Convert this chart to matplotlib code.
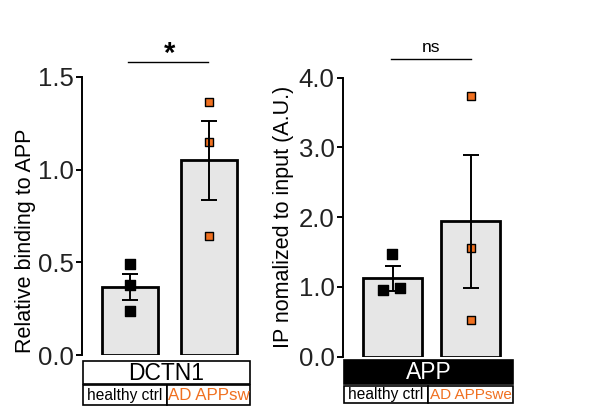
import matplotlib
matplotlib.use("Agg")
import matplotlib.pyplot as plt
from matplotlib.patches import Rectangle

plt.rcParams['font.family'] = ['Liberation Sans', 'DejaVu Sans']

# ---- data ----
groups = ["healthy ctrl", "AD APPswe"]
dctn1_means = [0.367, 1.050]
dctn1_sem = [0.070, 0.215]
dctn1_pts_ctrl = [0.49, 0.38, 0.24]
dctn1_pts_ad = [1.367, 1.148, 0.644]

app_means = [1.125, 1.940]
app_sem = [0.18, 0.95]
app_pts_ctrl = [1.47, 0.95, 0.985]
app_pts_ad = [3.74, 1.563, 0.526]
app_jitter_ctrl = [-0.01, -0.12, 0.10]
app_jitter_ad = [0.0, 0.0, 0.0]
dctn1_jitter = [0.0, 0.0, 0.0]

left_ticks = [0.0, 0.5, 1.0, 1.5]
left_ticklabels = ["0.0", "0.5", "1.0", "1.5"]
right_ticks = [0.0, 1.0, 2.0, 3.0, 4.0]
right_ticklabels = ["0.0", "1.0", "2.0", "3.0", "4.0"]

W, H = 604, 419
fig = plt.figure(figsize=(W / 100, H / 100), dpi=100)
fig.patch.set_facecolor("white")

def fax(l, t, r, b):
    return [l / W, 1 - b / H, (r - l) / W, (b - t) / H]

ORANGE = "#f07020"
BARFILL = "#e6e6e6"

def draw_panel(ax, means, sem, pts_c, pts_a, jit_c, jit_a, ylim, ticks, tlabels, width):
    x = [0, 1]
    ax.bar(x, means, width=width, color=BARFILL, edgecolor="black", linewidth=2.0, zorder=2)
    ax.scatter([x[0] + j for j in jit_c], pts_c, marker="s", s=55, color="black",
               edgecolor="black", zorder=3, clip_on=False)
    ax.scatter([x[1] + j for j in jit_a], pts_a, marker="s", s=38, color=ORANGE,
               edgecolor="black", linewidth=1.0, zorder=3, clip_on=False)
    for xi, m, e in zip(x, means, sem):
        ax.errorbar([xi], [m], yerr=[[e], [e]], fmt="none", ecolor="black",
                    elinewidth=1.4, capsize=6, capthick=1.4, zorder=4)
    ax.set_ylim(*ylim)
    ax.set_yticks(ticks)
    ax.set_yticklabels(tlabels, fontsize=18.5, color="#222222")
    for s in ["top", "right", "bottom"]:
        ax.spines[s].set_visible(False)
    ax.spines["left"].set_linewidth(1.4)
    ax.set_xticks([])
    ax.tick_params(axis="y", direction="out", length=4, width=1.4, pad=2)
    ax.patch.set_alpha(0)

# left panel
axL = fig.add_axes(fax(82, 77, 250, 355))
axL.set_xlim(-0.608, 1.52)
draw_panel(axL, dctn1_means, dctn1_sem, dctn1_pts_ctrl, dctn1_pts_ad,
           dctn1_jitter, dctn1_jitter, (0, 1.5), left_ticks, left_ticklabels, 0.72)
axL.plot([-0.03, 0.99], [1.581, 1.581], color="black", lw=1.0, clip_on=False)
axL.text(0.5, 1.625, "*", ha="center", va="center", fontsize=21, fontweight="bold")

# right panel
axR = fig.add_axes(fax(343, 77.7, 513, 356.7))
axR.set_xlim(-0.635, 1.545)
draw_panel(axR, app_means, app_sem, app_pts_ctrl, app_pts_ad,
           app_jitter_ctrl, app_jitter_ad, (0, 4.0), right_ticks, right_ticklabels, 0.75)
axR.plot([-0.02, 1.0], [4.27, 4.27], color="black", lw=1.0, clip_on=False)
axR.text(0.49, 4.44, "ns", ha="center", va="center", fontsize=12.5)

# y labels
fig.text(26 / W, 1 - 241 / H, "Relative binding to APP", rotation=90,
         ha="center", va="center", fontsize=15.5)
fig.text(284 / W, 1 - 217 / H, "IP nomalized to input (A.U.)", rotation=90,
         ha="center", va="center", fontsize=15.5)

def frect(l, t, r, b, fc, ec="black", lw=1.2):
    p = Rectangle((l / W, 1 - b / H), (r - l) / W, (b - t) / H, transform=fig.transFigure,
                  facecolor=fc, edgecolor=ec, linewidth=lw)
    fig.patches.append(p)
    return p

def ftext(x, y, s, clip=None, **kw):
    t = fig.text(x / W, 1 - y / H, s, **kw)
    if clip is not None:
        t.set_clip_path(clip)
    return t

# DCTN1 label boxes
frect(83, 361, 250, 384, "white")
ftext(166.5, 373, "DCTN1", ha="center", va="center", fontsize=16.5)
frect(83, 385, 167, 405, "white")
c2 = frect(167, 385, 250, 405, "white")
ftext(125, 395, groups[0], ha="center", va="center", fontsize=11.2)
ftext(168.5, 395.5, groups[1], ha="left", va="center", fontsize=12.2, color=ORANGE, clip=c2)

# APP label boxes
frect(344, 360, 513, 384, "black")
ftext(428.5, 372.5, "APP", ha="center", va="center", fontsize=16.5, color="white")
frect(344, 386, 428, 403, "white")
c4 = frect(428, 386, 513, 403, "white")
ftext(386, 394.5, groups[0], ha="center", va="center", fontsize=11.2)
ftext(429.5, 394.5, groups[1], ha="left", va="center", fontsize=11.0, color=ORANGE, clip=c4)

fig.savefig("out.png", dpi=100, facecolor="white")
